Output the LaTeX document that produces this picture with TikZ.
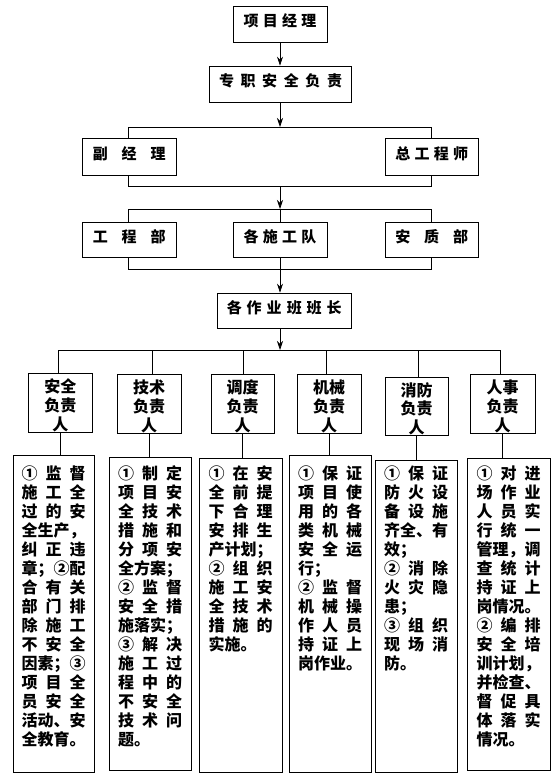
\documentclass[tikz,border=0pt]{standalone}
\usepackage{fontspec}
\newfontfamily\cjk{Noto Sans CJK SC}
\usetikzlibrary{arrows.meta}
\newcommand{\tri}[3]{\hbox to 64pt{#1\hfill#2\hfill#3}}
\newcommand{\lin}[1]{\hbox to 64pt{#1\hfil}}
\newcommand{\upby}[2]{\raisebox{#1}[\height][\depth]{#2}}
\newcommand{\kgap}[1]{\hspace{#1pt}}
\newcommand{\rolet}[1]{\raisebox{-4.5pt}[\height][\depth]{\begin{tabular}{@{}c@{}}#1\end{tabular}}}
\newcommand{\colt}[2]{\parbox[c][#1pt][t]{64pt}{\cjk\bfseries\fontsize{16pt}{19pt}\selectfont\baselineskip=19pt\relax #2}}
\begin{document}
\begin{tikzpicture}[x=1pt,y=-1pt,
  bx/.style={draw=black, line width=0.7pt, inner sep=0pt, font=\cjk\bfseries},
  topbox/.style={bx, font={\cjk\bfseries\fontsize{15pt}{18pt}\selectfont}},
  rolebox/.style={bx, font={\cjk\bfseries\fontsize{16pt}{17pt}\selectfont}},
  ln/.style={line width=0.7pt},
  arr/.style={ln, -{Stealth[length=9pt,width=6pt]}}]
\useasboundingbox[fill=white] (0,0) rectangle (555,779);

% top chain
\node[topbox, minimum width=94pt, minimum height=36pt] (pm) at (280,24) {\upby{3pt}{项\kgap{4.3}目\kgap{4.3}经\kgap{4.3}理}};
\node[topbox, minimum width=142pt, minimum height=36pt] (zz) at (280.5,84) {\upby{3pt}{专\kgap{6.6}职\kgap{6.6}安\kgap{6.6}全\kgap{6.6}负\kgap{6.6}责}};
\node[topbox, minimum width=93.5pt, minimum height=37pt] (fj) at (129.25,156.5) {\upby{3pt}{副\kgap{14}经\kgap{14}理}};
\node[topbox, minimum width=92.5pt, minimum height=37pt] (zg) at (431.75,156.5) {\upby{3pt}{总\kgap{4.3}工\kgap{4.3}程\kgap{4.3}师}};
\node[topbox, minimum width=93.5pt, minimum height=35pt] (gc) at (129.25,239.75) {\upby{3pt}{工\kgap{14}程\kgap{14}部}};
\node[topbox, minimum width=94pt, minimum height=35pt] (sg) at (280,239.75) {\upby{3pt}{各\kgap{4.3}施\kgap{4.3}工\kgap{4.3}队}};
\node[topbox, minimum width=92.5pt, minimum height=35pt] (az) at (431.75,239.75) {\upby{3pt}{安\kgap{14}质\kgap{14}部}};
\node[topbox, minimum width=134.5pt, minimum height=35pt] (bz) at (284.25,310.5) {\upby{3pt}{各\kgap{5}作\kgap{5}业\kgap{5}班\kgap{5}班\kgap{5}长}};

% role boxes
\node[rolebox, minimum width=64.5pt, minimum height=59pt] (r1) at (60.25,402.5) {\rolet{安全\\负责\\人}};
\node[rolebox, minimum width=64pt, minimum height=59pt] (r2) at (149,403.5) {\rolet{技术\\负责\\人}};
\node[rolebox, minimum width=63pt, minimum height=59pt] (r3) at (242.5,403.5) {\rolet{调度\\负责\\人}};
\node[rolebox, minimum width=64pt, minimum height=59pt] (r4) at (329,403.5) {\rolet{机械\\负责\\人}};
\node[rolebox, minimum width=63pt, minimum height=58pt] (r5) at (416.5,406) {\rolet{消防\\负责\\人}};
\node[rolebox, minimum width=65pt, minimum height=59pt] (r6) at (502.5,403.5) {\rolet{人事\\负责\\人}};

% text boxes
\node[bx, minimum width=81pt, minimum height=317pt] (t1) at (53.5,613.5) {\colt{295.4}{%
\tri{①}{监}{督}\tri{施}{工}{全}\tri{过}{的}{安}\lin{全生产，}\tri{纠}{正}{违}\lin{章；②配}%
\tri{合}{有}{关}\tri{部}{门}{排}\tri{除}{施}{工}\tri{不}{安}{全}\lin{因素；③}\tri{项}{目}{全}%
\tri{员}{安}{全}\lin{活动、安}\lin{全教育。}}};
\node[bx, minimum width=82pt, minimum height=313pt] (t2) at (150,613.5) {\colt{295.4}{%
\tri{①}{制}{定}\tri{项}{目}{安}\tri{全}{技}{术}\tri{措}{施}{和}\tri{分}{项}{安}\lin{全方案；}%
\tri{②}{监}{督}\tri{安}{全}{措}\lin{施落实；}\tri{③}{解}{决}\tri{施}{工}{过}\tri{程}{中}{的}%
\tri{不}{安}{全}\tri{技}{术}{问}\lin{题。}}};
\node[bx, minimum width=83pt, minimum height=314pt] (t3) at (240.5,615) {\colt{298.4}{%
\tri{①}{在}{安}\tri{全}{前}{提}\tri{下}{合}{理}\tri{安}{排}{生}\lin{产计划；}%
\tri{②}{组}{织}\tri{施}{工}{安}\tri{全}{技}{术}\tri{措}{施}{的}\lin{实施。}}};
\node[bx, minimum width=82pt, minimum height=317pt] (t4) at (330,613.5) {\colt{295.4}{%
\tri{①}{保}{证}\tri{项}{目}{使}\tri{用}{的}{各}\tri{类}{机}{械}\tri{安}{全}{运}\lin{行；}%
\tri{②}{监}{督}\tri{机}{械}{操}\tri{作}{人}{员}\tri{持}{证}{上}\lin{岗作业。}}};
\node[bx, minimum width=82pt, minimum height=312pt] (t5) at (416,616) {\colt{300.4}{%
\tri{①}{保}{证}\tri{防}{火}{设}\tri{备}{设}{施}\lin{齐全、有}\lin{效；}%
\tri{②}{消}{除}\tri{火}{灾}{隐}\lin{患；}\tri{③}{组}{织}\tri{现}{场}{消}\lin{防。}}};
\node[bx, minimum width=83pt, minimum height=312pt] (t6) at (508.5,614) {\colt{296.4}{%
\tri{①}{对}{进}\tri{场}{作}{业}\tri{人}{员}{实}\tri{行}{统}{一}\lin{管理，调}\tri{查}{统}{计}%
\tri{持}{证}{上}\lin{岗情况。}\tri{②}{编}{排}\tri{安}{全}{培}\lin{训计划，}\lin{并检查、}%
\tri{督}{促}{具}\tri{体}{落}{实}\lin{情况。}}};

% connectors
\coordinate (u1) at (128.5,127); \coordinate (u2) at (431.5,127);
\coordinate (l1) at (128.5,186); \coordinate (l2) at (431.5,186);
\coordinate (v1) at (128.5,209); \coordinate (v2) at (431.5,209);
\coordinate (w1) at (128.5,269); \coordinate (w2) at (431.5,269);
\coordinate (b1) at (58,350); \coordinate (b2) at (152,350); \coordinate (b3) at (243,350);
\coordinate (b4) at (326,350); \coordinate (b5) at (418,350); \coordinate (b6) at (500,350);

\draw[arr] (pm.south) -- (pm.south |- zz.north);
\draw[arr] (pm.south |- zz.south) -- (pm.south |- u1);
\draw[ln] (u1 |- fj.north) -- (u1) -- (u2) -- (u2 |- zg.north);
\draw[ln] (l1 |- fj.south) -- (l1) -- (l2) -- (l2 |- zg.south);
\draw[arr] (pm.south |- l1) -- (pm.south |- v1);
\draw[ln] (v1 |- gc.north) -- (v1) -- (v2) -- (v2 |- az.north);
\draw[ln] (pm.south |- v1) -- (sg.north);
\draw[ln] (w1 |- gc.south) -- (w1) -- (w2) -- (w2 |- az.south);
\draw[arr] (sg.south) -- (sg.south |- bz.north);
\draw[arr] (pm.south |- bz.south) -- (pm.south |- b1);
\draw[ln] (b1) -- (b6);
\foreach \i in {1,...,6} {
  \draw[ln] (b\i) -- (b\i |- r\i.north);
  \draw[ln] (r\i.south) -- (r\i.south |- t\i.north);
}
\end{tikzpicture}
\end{document}
